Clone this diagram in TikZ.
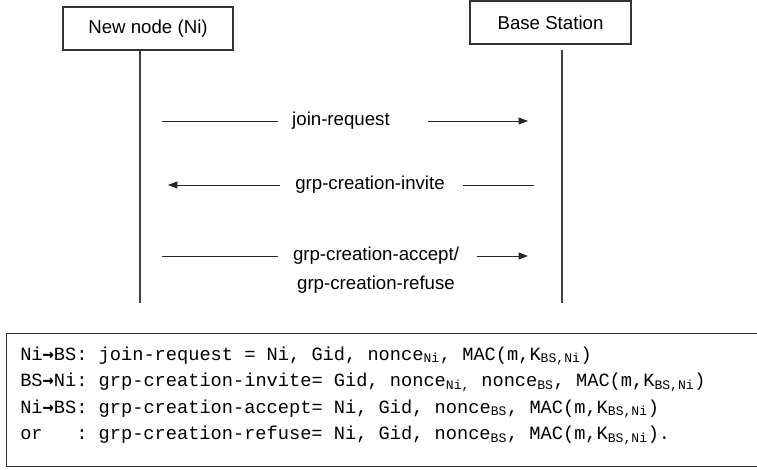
\documentclass[tikz,border=0pt]{standalone}
\usepackage{fontspec}
\setsansfont{Liberation Sans}
\setmonofont{Liberation Mono}
\newfontfamily\arrowfont{DejaVu Sans Mono}
\newcommand{\sendto}{{\arrowfont\bfseries →}}
\usetikzlibrary{arrows.meta}
\tikzset{
  party/.style={draw=black!80, line width=0.8pt, minimum height=32.25pt, inner sep=0pt},
  lifeline/.style={draw=black!75, line width=0.8pt},
  msgline/.style={draw=black!85, line width=0.7pt},
  msgarrow/.style={msgline, -{Triangle[length=7pt,width=5.2pt]}},
  eqline/.style={anchor=base west, inner sep=0pt, font=\ttfamily\fontsize{14}{20}\selectfont}
}
\begin{document}
\begin{tikzpicture}[x=0.75pt, y=-0.75pt, font=\sffamily\fontsize{14}{21.75}\selectfont]
  \useasboundingbox (0,0) rectangle (757,470);
  \draw
    (148,28.5) node[party, minimum width=127.5pt] (ni){New node (Ni)}
    (550.5,22.5) node[party, minimum width=120.75pt] (bs){Base Station};
  \coordinate (niend) at (140,303);
  \coordinate (bstop) at (562,50);
  \coordinate (bsend) at (562,303);
  \draw[lifeline] (ni.south -| niend) -- (niend);
  \draw[lifeline] (bstop) -- (bsend);

  \node (join) at (341,121) {join-request};
  \node (invite) at (370,185) {grp-creation-invite};
  \node[align=center] (accept) at (376,270.5) {grp-creation-accept/\\grp-creation-refuse};

  \coordinate (j1) at (162,121);
  \coordinate (j2) at (278,121);
  \coordinate (j3) at (428,121);
  \coordinate (j4) at (528,121);
  \coordinate (i1) at (168,185);
  \coordinate (i2) at (280,185);
  \coordinate (i3) at (463,185);
  \coordinate (i4) at (534,185);
  \coordinate (a1) at (162,256);
  \coordinate (a2) at (278,256);
  \coordinate (a3) at (477,256);
  \coordinate (a4) at (528,256);
  \begin{scope}
    \draw[msgline] (j1) -- (j2);
    \draw[msgarrow] (j3) -- (j4);
    \draw[msgarrow] (i2) -- (i1);
    \draw[msgline] (i3) -- (i4);
    \draw[msgline] (a1) -- (a2);
    \draw[msgarrow] (a3) -- (a4);
  \end{scope}

  \node[draw=black!80, line width=0.8pt, anchor=north west, minimum width=600pt,
    minimum height=99.75pt, inner sep=0pt] (frame) at (6,333) {};
  \node[eqline] (l1) at (20,360)
    {Ni\sendto BS: join-request = Ni, Gid, nonce\textsubscript{Ni}, MAC(m,K\textsubscript{BS,Ni})};
  \node[eqline] (l2) at (20,386.5)
    {BS\sendto Ni: grp-creation-invite= Gid, nonce\textsubscript{Ni,} nonce\textsubscript{BS}, MAC(m,K\textsubscript{BS,Ni})};
  \node[eqline] (l3) at (20,413)
    {Ni\sendto BS: grp-creation-accept= Ni, Gid, nonce\textsubscript{BS}, MAC(m,K\textsubscript{BS,Ni})};
  \node[eqline] (l4) at (20,439.5)
    {or~~~: grp-creation-refuse= Ni, Gid, nonce\textsubscript{BS}, MAC(m,K\textsubscript{BS,Ni}).};
\end{tikzpicture}
\end{document}
